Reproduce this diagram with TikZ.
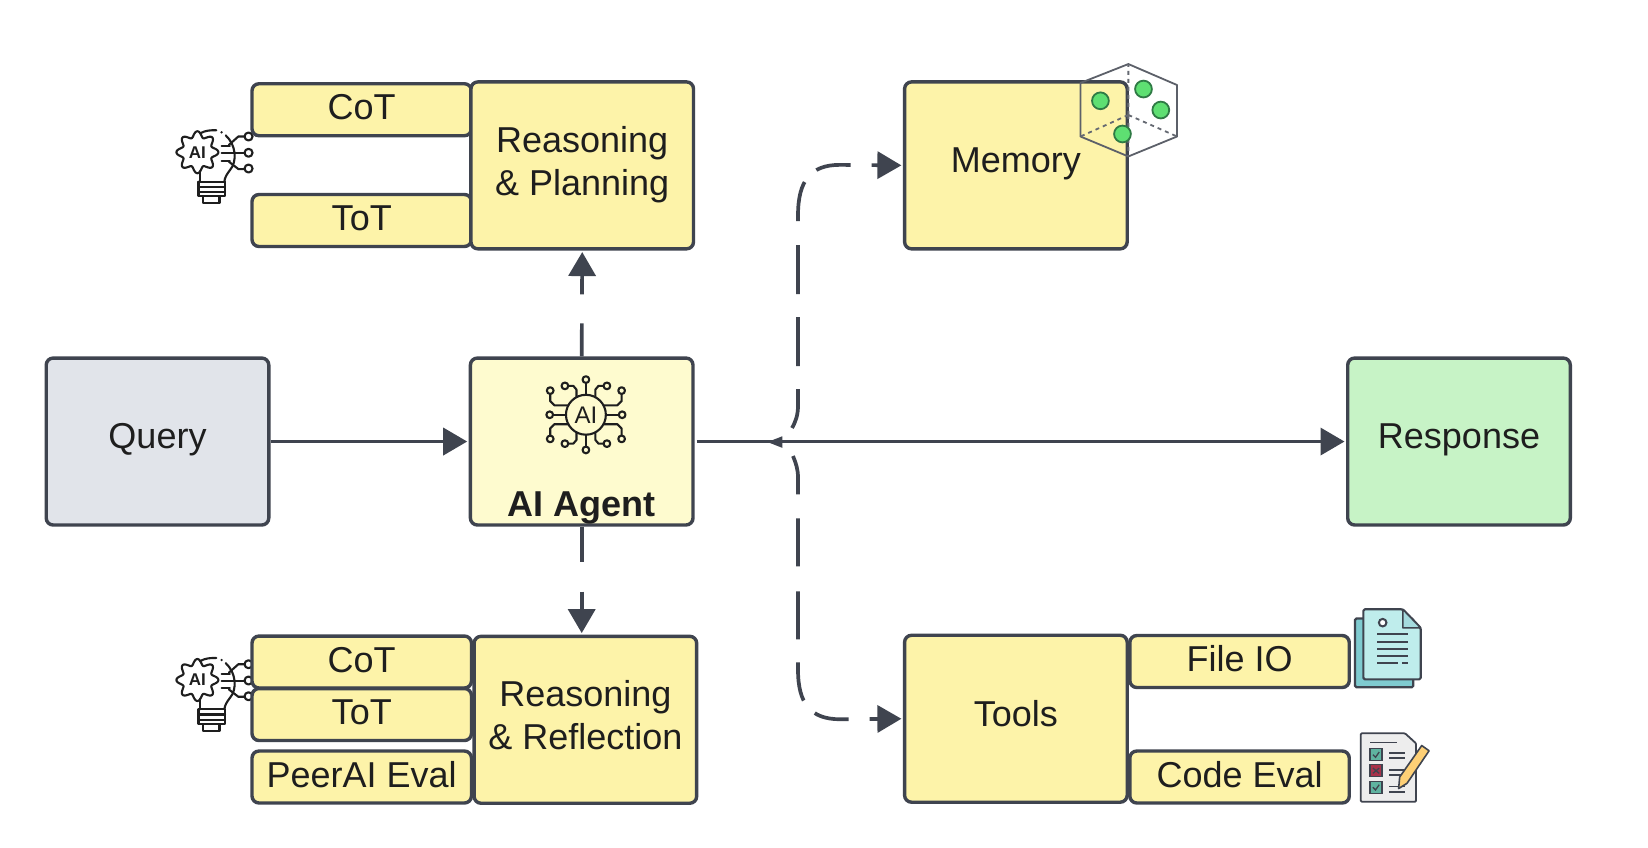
\documentclass[tikz,border=0pt]{standalone}
\usepackage{fontspec}
\setmainfont{Liberation Sans}
\usetikzlibrary{arrows.meta,calc}
\definecolor{ink}{HTML}{3F444F}
\definecolor{txt}{HTML}{1E1E1E}
\definecolor{boxy}{HTML}{FDF3A9}
\definecolor{agenty}{HTML}{FEFBCF}
\definecolor{queryg}{HTML}{E1E4EA}
\definecolor{respg}{HTML}{C7F3C6}
\definecolor{dotg}{HTML}{5EDF72}
\definecolor{dotline}{HTML}{2F7A45}
\definecolor{paper}{HTML}{BFEDEC}
\definecolor{paperb}{HTML}{7FCBD0}
\definecolor{checkg}{HTML}{5FB3A0}
\definecolor{checkr}{HTML}{A8324A}
\newcommand{\twolines}[2]{\begin{tabular}{@{}c@{}}#1\\#2\end{tabular}}
\tikzset{
  x=1.05pt,y=-1.05pt,
  boxbase/.style={draw=ink,line width=3.4pt,rounded corners=7pt,inner sep=0pt,text=txt,
    font=\fontsize{36}{43}\selectfont,align=center},
  bigbox/.style={boxbase,fill=boxy,minimum width=212*1.05pt,minimum height=159*1.05pt},
  smallbox/.style={boxbase,fill=boxy,minimum width=209*1.05pt,minimum height=49.5*1.05pt},
  linkbase/.style={draw=ink,line width=3.7pt,-{Triangle[length=24pt,width=27pt]},shorten >=1.5pt},
  iconline/.style={draw=txt,line width=2.1pt,line cap=round,line join=round},
  bulbicon/.pic={
    \draw[iconline,fill=white] plot[domain=0:360,samples=121,smooth]
      ({(17.2+2.8*cos(8*\x))*cos(\x)},{(17.2+2.8*cos(8*\x))*sin(\x)}) -- cycle;
    \node[text=txt,inner sep=0pt,font=\fontsize{17}{17}\selectfont\bfseries] (ailab) at (0,0) {AI};
    \draw[iconline] (2.5,-18) .. controls (8,-21) and (13,-21) .. (18,-21);
    \fill[txt] (23,-19) circle (1.2);
    \draw[iconline] (27,-16) .. controls (37,-7) and (38,9) .. (31,17) .. controls (28,21) and (26,24) .. (25.7,28);
    \draw[iconline] (2.5,18) -- (2.5,28);
    \draw[iconline] (1,28) -- (26,28);
    \draw[iconline,line width=2.6pt] (1,33) -- (26,33);
    \draw[iconline,line width=2.6pt] (1,38) -- (26,38);
    \draw[iconline] (1,28) -- (1,42) -- (26,42) -- (26,28);
    \draw[iconline] (5,42) -- (5,48.5) -- (21,48.5) -- (21,42);
    \draw[iconline] (23,-6) -- (31,-6);
    \draw[iconline] (23,1) -- (44.5,1);
    \draw[iconline] (23,8) -- (31,8);
    \draw[iconline] (30,-7) -- (39,-15) -- (44.5,-15);
    \draw[iconline] (30,9) -- (39,16) -- (44.5,16);
    \draw[iconline,fill=white] (48.7,-15) circle (3.8);
    \draw[iconline,fill=white] (48.7,0.5) circle (3.8);
    \draw[iconline,fill=white] (48.7,15.5) circle (3.8);
  },
}
\begin{document}
\begin{tikzpicture}
\useasboundingbox (0,0) rectangle (1569.5,807.6);
\fill[white] (0,0) rectangle (1569.5,807.6);

% bulb icons sit behind the boxes
\pic at (188,145) {bulbicon};
\pic at (188,647.6) {bulbicon};

% main boxes
\node[boxbase,fill=queryg,minimum width=212*1.05pt,minimum height=159*1.05pt] (query) at (150,420.5) {\raisebox{11pt}{Query}};
\node[boxbase,fill=agenty,minimum width=212*1.05pt,minimum height=159*1.05pt] (agent) at (554,420.5) {};
\node[boxbase,fill=respg,minimum width=212*1.05pt,minimum height=159*1.05pt] (resp) at (1389.5,420.5) {\raisebox{11pt}{Response}};
\node[inner sep=0pt,text=txt,font=\fontsize{36}{43}\selectfont\bfseries] (agentlab) at (554,484) {AI Agent};

\node[smallbox] (cot1) at (344.5,104.5) {\raisebox{5pt}{CoT}};
\node[smallbox] (tot1) at (344.5,210) {\raisebox{5.5pt}{ToT}};
\node[bigbox] (plan) at (554.5,157.5) {\raisebox{2pt}{\twolines{Reasoning}{\& Planning}}};

\node[smallbox] (cot2) at (344.5,630.5) {\raisebox{5pt}{CoT}};
\node[smallbox] (tot2) at (344.5,680.5) {\raisebox{5pt}{ToT}};
\node[smallbox] (peer) at (344.5,740) {\raisebox{5pt}{PeerAI Eval}};
\node[bigbox] (refl) at (557.5,685.5) {\raisebox{1pt}{\twolines{Reasoning}{\& Reflection}}};

\node[bigbox] (mem) at (967.5,157.5) {\raisebox{11pt}{Memory}};
\node[bigbox] (tools) at (967.5,684.5) {\raisebox{11pt}{Tools}};
\node[smallbox] (fileio) at (1180.5,630) {\raisebox{6pt}{File IO}};
\node[smallbox] (code) at (1180.5,740) {\raisebox{5pt}{Code Eval}};

% connectors
\coordinate (upstart) at (754.3,407.6);
\coordinate (downstart) at (755.2,434.3);
\draw[linkbase] (query.east) -- (agent.west);
\draw[linkbase,shorten <=2pt] (agent.east) -- (resp.west);
\fill[ink] (731,421) -- (745,415.5) -- (745,426.5) -- cycle;
\draw[linkbase,dash pattern=on 33pt off 29pt on 60pt off 20pt] (agent.north) -- (plan.south);
\draw[linkbase,dash pattern=on 35pt off 30pt on 60pt off 20pt] (agent.south) -- (agent.south |- refl.north);
\draw[linkbase,dash pattern=on 40pt off 23pt on 49pt off 23pt on 49pt off 24pt on 40pt off 17pt on 35pt off 21pt on 60pt off 10pt]
  (upstart) .. controls (758,401) and (760,395) .. (760,386) -- (760,205)
  .. controls (760,172) and (772,157) .. (800,157) -- (mem.west);
\draw[linkbase,dash pattern=on 39pt off 24pt on 48pt off 25pt on 48pt off 23pt on 39pt off 17pt on 35pt off 21pt on 60pt off 10pt]
  (downstart) .. controls (758,441) and (760,447) .. (760,455) -- (760,638)
  .. controls (760,670) and (772,685) .. (800,685) -- (tools.west);

% chip icon
\begin{scope}[shift={(558,395)}]
  \draw[iconline] (0,0) circle (19);
  \node[text=txt,inner sep=0pt,font=\fontsize{24}{24}\selectfont] (chipai) at (0,0) {AI};
  \foreach \sx in {-1,1}{
    \draw[iconline] (\sx*19,0) -- (\sx*31,0);
    \draw[iconline,fill=agenty] (\sx*34.5,0) circle (3.2);
    \foreach \sy in {-1,1}{
      \draw[iconline] (\sx*17,\sy*9) -- (\sx*30,\sy*9) -- (\sx*34,\sy*13) -- (\sx*34,\sy*20);
      \draw[iconline,fill=agenty] (\sx*34,\sy*23) circle (3.2);
      \draw[iconline] (\sx*9,\sy*17) -- (\sx*9,\sy*24) -- (\sx*12,\sy*27.5) -- (\sx*17,\sy*27.5);
      \draw[iconline,fill=agenty] (\sx*20,\sy*27.5) circle (3.2);
    }
  }
  \foreach \sy in {-1,1}{
    \draw[iconline] (0,\sy*19) -- (0,\sy*30);
    \draw[iconline,fill=agenty] (0,\sy*33.5) circle (3.2);
  }
\end{scope}

% cube icon
\draw[ink!85!white,line width=1.8pt,line join=round]
  (1074.6,61) -- (1121,81) -- (1121,130) -- (1074.6,149) -- (1029,130) -- (1029,79) -- cycle;
\draw[ink!80!white,line width=1.8pt,dash pattern=on 4pt off 4pt]
  (1074.6,109.5) -- (1074.6,61) (1074.6,109.5) -- (1029,130) (1074.6,109.5) -- (1121,130) (1074.6,109.5) -- (1074.6,149);
\foreach \px/\py in {1048/96,1089/84.8,1105.5/104.8,1069/127.6}
  \draw[dotline,fill=dotg,line width=1.8pt] (\px,\py) circle (8);

% file icon
\draw[ink,fill=paperb,line width=2.2pt,rounded corners=1.5pt] (1290.5,589) rectangle (1346,654.6);
\draw[ink,fill=paper,line width=2.2pt,line join=round,rounded corners=1.5pt]
  (1298.4,580.3) -- (1336,580.3) -- (1353,598) -- (1353,647) -- (1298.4,647) -- cycle;
\draw[ink,fill=paperb!70!white,line width=1.6pt,line join=round] (1336,580.3) -- (1336,598) -- (1353,598) -- cycle;
\draw[ink,line width=2pt,fill=white] (1316.8,593) circle (3.6);
\foreach \ly in {603.8,611,618.4,624.8}
  \draw[ink,line width=2pt] (1311.8,\ly) -- (1341,\ly);
\draw[ink,line width=2pt] (1311.8,631) -- (1331,631) (1335,631) -- (1341,631);

% checklist icon
\draw[ink,fill=gray!14,line width=1.8pt,line join=round,rounded corners=1pt]
  (1295.9,698.4) -- (1338.1,698.4) -- (1348.6,708) -- (1348.6,763.5) -- (1295.9,763.5) -- cycle;
\draw[ink,line width=1.6pt] (1304.8,707.2) -- (1330,707.2);
\foreach \cy/\cc in {718.7/checkg,734/checkr,749.8/checkg}{
  \draw[ink,fill=\cc,line width=1.4pt] (1304.8,\cy-5.7) rectangle (1316.2,\cy+5.7);
}
\foreach \cy in {718.7,749.8}
  \draw[ink,line width=1.3pt] (1307.5,\cy) -- (1310,\cy+2.5) -- (1313.5,\cy-2.5);
\draw[ink,line width=1.3pt] (1307.5,731.5) -- (1313.5,736.5) (1313.5,731.5) -- (1307.5,736.5);
\foreach \ly in {717.2,722,733,738,749,754}
  \draw[ink,line width=1.8pt] (1323,\ly) -- (1338,\ly);
\draw[ink,fill=boxy!70!orange,line width=1.6pt,line join=round]
  (1332,751) -- (1333,740) -- (1354,710) -- (1361,715) -- (1340,746) -- cycle;
\end{tikzpicture}
\end{document}
